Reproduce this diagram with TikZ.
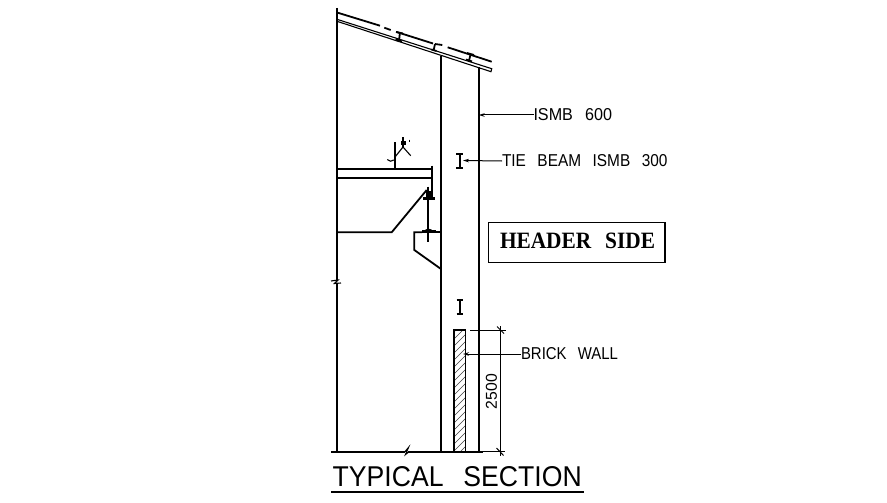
\documentclass[tikz,border=0pt]{standalone}
\usepackage{fontspec}
\usetikzlibrary{arrows.meta}
\setmainfont[WordSpace=2.7]{Liberation Sans}
\newfontfamily\hdrfont[WordSpace=2.6]{Liberation Serif}
\newcommand{\fitted}[3]{\resizebox{#1pt}{#2pt}{#3}}
\tikzset{
  wall/.style={line width=1.8pt,black},
  thin part/.style={line width=1.1pt,black},
  heavy/.style={line width=2.6pt,black},
  leader/.style={line width=1pt,black,-{Stealth[length=6pt,width=3.5pt]}},
  label/.style={inner sep=0pt,outer sep=0pt,text=black},
}
\begin{document}
\begin{tikzpicture}[x=1pt,y=-1pt]
\useasboundingbox (0,0) rectangle (887,503);
\fill[white] (0,0) rectangle (887,503);

% walls and columns
\draw[wall] (337,8) -- (337,280);
\draw[wall] (337,284) -- (337,451.5);
\draw[thin part] (331,281) -- (338,280) -- (334.5,283.5) -- (341,283);
\draw[wall] (441.3,55.7) -- (441.3,451.5);
\draw[wall] (478.7,67.5) -- (478.7,451.5);

% roof sheet (dashed top line) and double lower line
\draw[wall] (337,12.5) -- (380,25.7);
\draw[wall] (384.3,27.7) -- (390.7,30);
\draw[wall] (396.7,32) -- (433,43.5);
\draw[wall] (435,44) -- (442.3,45);
\draw[wall] (447.7,47.3) -- (491.7,61.7);
\draw[thin part] (337,19.3) -- (491.7,68.7) -- (491,71.7) -- (337,21.3);

% purlins
\draw[wall] (400,32.3) -- (399,40.7);
\draw[wall] (396,32) -- (403,33.5);
\draw[wall] (395.5,39.5) -- (402,41.5);
\draw[wall] (435,44) -- (433.7,50);
\draw[wall] (431.5,49.5) -- (436.5,51);
\draw[wall] (470.7,54) -- (469,60.7);
\draw[wall] (467,53) -- (474,55);
\draw[wall] (466,59.5) -- (472,61.5);

% header beam, post and sag-rod detail
\draw[wall] (337,169) -- (432,169);
\draw[wall] (337,178.3) -- (432,178.3);
\draw[heavy] (432,165.7) -- (432,196.7);
\draw[heavy] (395,142.3) -- (395,169);
\draw[thin part] (387.3,159.5) .. controls (389,162) and (392,161.5) .. (393.7,160);
\draw[thin part] (395,157) -- (403,147) -- (410.7,155.7);
\draw[thin part] (403,137) -- (403,147);
\draw[thin part] (401.3,141.7) rectangle (405,144.5);
\draw[wall] (409.5,139.5) -- (409.5,142);

% gutter line
\draw[wall] (337,232.3) -- (391.7,232.3) -- (426.7,190);

% hanger rod and plates
\draw[wall] (428.3,186.7) -- (428.3,242.3);
\fill[black] (425.5,191) rectangle (431,197);
\draw[heavy] (422.7,198.3) -- (435,198.3);
\fill[black] (424,231) .. controls (426,228) and (431,228) .. (433,231) -- cycle;
\draw[heavy] (422,231.3) -- (435.5,231.3);

% corbel
\draw[wall] (435,232.3) -- (441.3,232.3);
\draw[wall] (422,232.3) -- (414.3,232.3) -- (414.3,250) -- (441,269);

% tie beam sections
\draw[wall] (460,154) -- (460,168.3);
\draw[wall] (456.3,154) -- (463.3,154);
\draw[wall] (456.3,168.3) -- (463.3,168.3);
\draw[wall] (460,300) -- (460,314);
\draw[wall] (456.7,300) -- (463.3,300);
\draw[wall] (456.7,314) -- (463.3,314);

% brick wall
\begin{scope}
\clip (454,330) rectangle (465.7,451.5);
\foreach \k in {0,7,...,133}
  \draw[line width=0.6pt,black!75] (450,{336+\k}) -- (470,{316+\k});
\end{scope}
\draw[line width=1.5pt] (454,330) rectangle (465.7,451.5);

% ground line with break
\draw[wall] (331,451.7) -- (405,451.7);
\draw[thin part] (405,451.7) -- (408.5,447.5) -- (405.5,454.5) -- (409,451.7);
\draw[wall] (408,451.7) -- (472,451.7);
\draw[wall] (469,451.7) -- (483,451.7);
\draw[line width=1pt] (483,451.7) -- (505,451.7);

% dimension
\coordinate (dimtop) at (500,330);
\coordinate (dimbot) at (500,451.7);
\draw[line width=1pt] (470,330) -- (505.5,330);
\draw[line width=1pt] (500,326) -- (500,455.5);
\draw[line width=1pt] (497,326.5) -- (504,333.5);
\draw[line width=1pt] (496.5,448) -- (503.5,455.5);
\node[label,rotate=90] (dimtext) at (491.5,391.5) {\fitted{35}{11}{2500}};

% labels and leaders
\node[label,anchor=west] (ismb) at (533.5,115) {\fitted{78.5}{12}{ISMB 600}};
\coordinate (ismbtip) at (478.7,115);
\draw[leader] (ismb.west) -- (ismbtip);

\node[label,anchor=west] (tie) at (502,161) {\fitted{165.5}{12}{TIE BEAM ISMB 300}};
\coordinate (tietip) at (463,160.5);
\draw[leader] (tie.west) -- (tietip);

\node[label,anchor=west] (brick) at (521,354) {\fitted{97}{12}{BRICK WALL}};
\coordinate (bricktip) at (463,354);
\draw[leader] (brick.west) -- (bricktip);

\node[draw=black,line width=1.2pt,minimum width=176.7pt,minimum height=40pt,inner sep=0pt] (hdr) at (576.7,242.3) {};
\node[label] (hdrtext) at (577.5,241) {\fitted{155}{15.5}{\hdrfont\bfseries HEADER SIDE}};

\node[label,anchor=south] (title) at (457.2,487) {\fitted{249}{20}{TYPICAL SECTION}};
\coordinate (ula) at (331,491.7);
\coordinate (ulb) at (584,491.7);
\draw[line width=2.2pt] (ula) -- (ulb);
\end{tikzpicture}
\end{document}
